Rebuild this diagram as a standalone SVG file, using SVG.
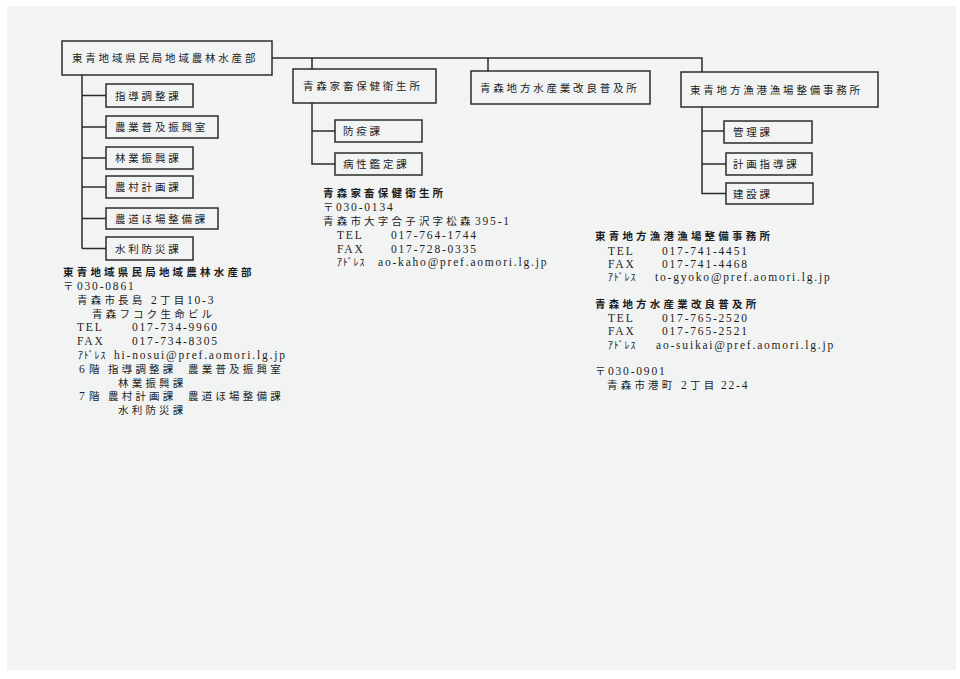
<svg xmlns="http://www.w3.org/2000/svg" width="960" height="679" viewBox="0 0 960 679">
<style>
.box{fill:none;stroke:#2b2b2b;stroke-width:1.5}
.ln{fill:none;stroke:#2b2b2b;stroke-width:1.5}
.bl{font-family:"Noto Sans CJK JP",sans-serif;font-size:10.5px;letter-spacing:2.8px;fill:#222}
text{fill:#1c1c1c}
.j{font-family:"Noto Sans CJK JP",sans-serif;font-size:10.5px;letter-spacing:3.2px}
.hb{font-family:"Noto Sans CJK JP",sans-serif;font-size:10.5px;letter-spacing:3.2px;font-weight:bold}
.l{font-family:"Liberation Serif",serif;font-size:11.5px;letter-spacing:1.8px}
.k{font-family:"Noto Sans CJK JP",sans-serif;font-size:10px;letter-spacing:0.8px}
</style>
<rect x="0" y="0" width="960" height="679" fill="#ffffff"/>
<rect x="7" y="6" width="949" height="664" fill="#f2f4f4"/>

<g id="connectors">
<path class="ln" d="M272,58 H702 V72 M312,58 V69 M488,58 V71"/>
<path class="ln" d="M82,75 V248.5 M82,95.5 H106 M82,127 H106 M82,158 H106 M82,187 H106 M82,218.5 H106 M82,248.5 H106"/>
<path class="ln" d="M312,103 V164 H335 M312,131 H335"/>
<path class="ln" d="M702,107 V193.5 H726 M702,131 H724 M702,164 H726"/>
</g>

<g id="n-bureau"><rect class="box" x="62" y="41" width="210" height="34"/><text class="bl" x="72" y="62">東青地域県民局地域農林水産部</text></g>
<g id="n-shido"><rect class="box" x="106" y="84" width="87" height="23"/><text class="bl" x="115" y="99.5">指導調整課</text></g>
<g id="n-fukyu"><rect class="box" x="106" y="116" width="112" height="22"/><text class="bl" x="115" y="131">農業普及振興室</text></g>
<g id="n-ringyo"><rect class="box" x="106" y="147" width="87" height="22"/><text class="bl" x="115" y="162">林業振興課</text></g>
<g id="n-noson"><rect class="box" x="106" y="176" width="87" height="22"/><text class="bl" x="115" y="191">農村計画課</text></g>
<g id="n-nodo"><rect class="box" x="106" y="208" width="112" height="21"/><text class="bl" x="115" y="222.5">農道ほ場整備課</text></g>
<g id="n-suiri"><rect class="box" x="106" y="237" width="87" height="23"/><text class="bl" x="115" y="252.5">水利防災課</text></g>

<g id="n-kaho"><rect class="box" x="293" y="69" width="143" height="34"/><text class="bl" x="303" y="90">青森家畜保健衛生所</text></g>
<g id="n-boeki"><rect class="box" x="335" y="120" width="87" height="22"/><text class="bl" x="343" y="135">防疫課</text></g>
<g id="n-byosei"><rect class="box" x="335" y="153" width="87" height="22"/><text class="bl" x="343" y="168">病性鑑定課</text></g>

<g id="n-suikai"><rect class="box" x="471" y="71" width="179" height="33"/><text class="bl" x="480" y="91.5">青森地方水産業改良普及所</text></g>

<g id="n-gyoko"><rect class="box" x="681" y="72" width="197" height="35"/><text class="bl" x="690" y="93.5">東青地方漁港漁場整備事務所</text></g>
<g id="n-kanri"><rect class="box" x="724" y="121" width="88" height="22"/><text class="bl" x="733" y="136">管理課</text></g>
<g id="n-keikaku"><rect class="box" x="726" y="153" width="86" height="22"/><text class="bl" x="733" y="168">計画指導課</text></g>
<g id="n-kensetsu"><rect class="box" x="726" y="183" width="87" height="21"/><text class="bl" x="733" y="197.5">建設課</text></g>

<g id="info-bureau">
<text class="hb" x="63" y="276">東青地域県民局地域農林水産部</text>
<text y="290"><tspan class="j" x="63">〒</tspan><tspan class="l" x="77">030-0861</tspan></text>
<text y="303.5"><tspan class="j" x="77">青森市長島</tspan><tspan class="l" x="151">2</tspan><tspan class="j" x="160">丁目</tspan><tspan class="l" x="187">10-3</tspan></text>
<text class="j" x="92" y="317.5">青森フコク生命ビル</text>
<text y="331"><tspan class="l" x="77">TEL</tspan><tspan class="l" x="132">017-734-9960</tspan></text>
<text y="345"><tspan class="l" x="77">FAX</tspan><tspan class="l" x="132">017-734-8305</tspan></text>
<text y="359"><tspan class="k" x="78">ｱﾄﾞﾚｽ</tspan><tspan class="l" x="114">hi-nosui@pref.aomori.lg.jp</tspan></text>
<text y="372.5"><tspan class="l" x="79">6</tspan><tspan class="j" x="89">階</tspan><tspan class="j" x="108">指導調整課</tspan><tspan class="j" x="188">農業普及振興室</tspan></text>
<text class="j" x="118" y="386.5">林業振興課</text>
<text y="400"><tspan class="l" x="79">7</tspan><tspan class="j" x="89">階</tspan><tspan class="j" x="108">農村計画課</tspan><tspan class="j" x="188">農道ほ場整備課</tspan></text>
<text class="j" x="118" y="414">水利防災課</text>
</g>

<g id="info-kaho">
<text class="hb" x="323" y="197">青森家畜保健衛生所</text>
<text y="211"><tspan class="j" x="323">〒</tspan><tspan class="l" x="336">030-0134</tspan></text>
<text y="225"><tspan class="j" x="323">青森市大字合子沢字松森</tspan><tspan class="l" x="475">395-1</tspan></text>
<text y="239"><tspan class="l" x="337">TEL</tspan><tspan class="l" x="391">017-764-1744</tspan></text>
<text y="252.5"><tspan class="l" x="337">FAX</tspan><tspan class="l" x="391">017-728-0335</tspan></text>
<text y="266"><tspan class="k" x="337">ｱﾄﾞﾚｽ</tspan><tspan class="l" x="378">ao-kaho@pref.aomori.lg.jp</tspan></text>
</g>

<g id="info-gyoko">
<text class="hb" x="595" y="240">東青地方漁港漁場整備事務所</text>
<text y="254.5"><tspan class="l" x="608">TEL</tspan><tspan class="l" x="662">017-741-4451</tspan></text>
<text y="267.5"><tspan class="l" x="608">FAX</tspan><tspan class="l" x="662">017-741-4468</tspan></text>
<text y="281"><tspan class="k" x="608">ｱﾄﾞﾚｽ</tspan><tspan class="l" x="655">to-gyoko@pref.aomori.lg.jp</tspan></text>
</g>

<g id="info-suikai">
<text class="hb" x="595" y="308">青森地方水産業改良普及所</text>
<text y="321.5"><tspan class="l" x="608">TEL</tspan><tspan class="l" x="662">017-765-2520</tspan></text>
<text y="335"><tspan class="l" x="608">FAX</tspan><tspan class="l" x="662">017-765-2521</tspan></text>
<text y="348.5"><tspan class="k" x="608">ｱﾄﾞﾚｽ</tspan><tspan class="l" x="656">ao-suikai@pref.aomori.lg.jp</tspan></text>
<text y="375"><tspan class="j" x="595">〒</tspan><tspan class="l" x="608">030-0901</tspan></text>
<text y="388.5"><tspan class="j" x="607">青森市港町</tspan><tspan class="l" x="681">2</tspan><tspan class="j" x="690">丁目</tspan><tspan class="l" x="721">22-4</tspan></text>
</g>
</svg>
